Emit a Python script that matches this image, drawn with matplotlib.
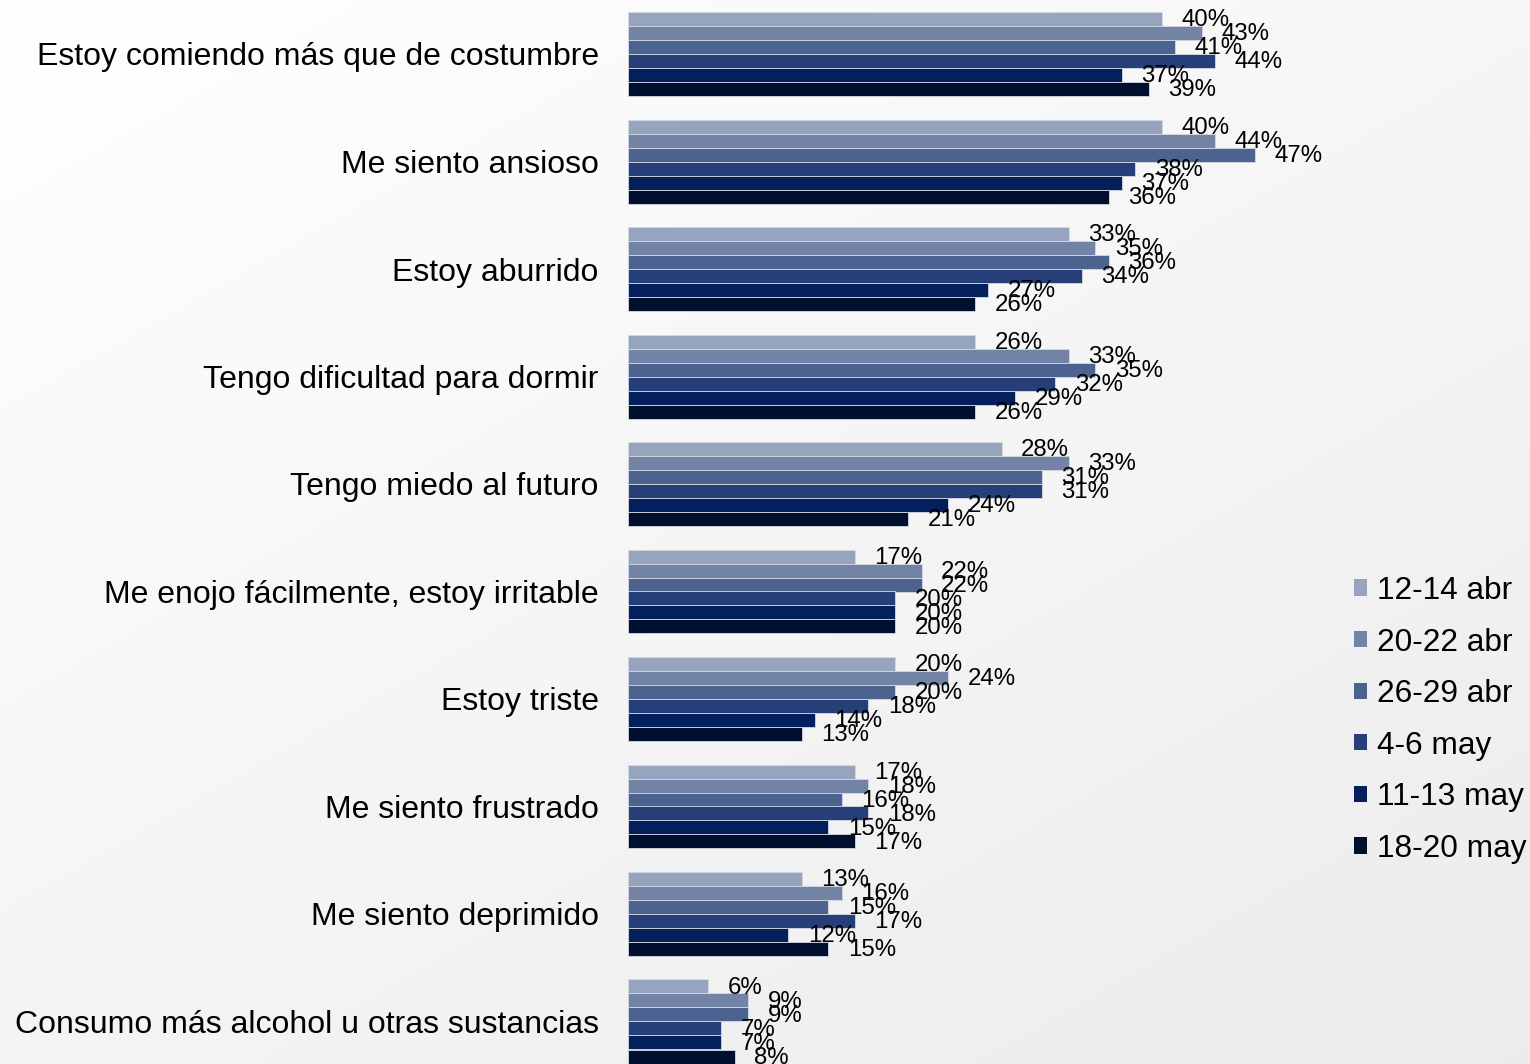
import matplotlib
matplotlib.use("Agg")
import matplotlib.pyplot as plt
import numpy as np
from matplotlib.patches import Patch

plt.rcParams["font.family"] = ["Liberation Sans", "DejaVu Sans"]

# ── Data ──────────────────────────────────────────────────────────────────────
categories = [
    "Estoy comiendo más que de costumbre",
    "Me siento ansioso",
    "Estoy aburrido",
    "Tengo dificultad para dormir",
    "Tengo miedo al futuro",
    "Me enojo fácilmente, estoy irritable",
    "Estoy triste",
    "Me siento frustrado",
    "Me siento deprimido",
    "Consumo más alcohol u otras sustancias",
]
periods = ["12-14 abr", "20-22 abr", "26-29 abr", "4-6 may", "11-13 may", "18-20 may"]

abr_12_14 = [40, 40, 33, 26, 28, 17, 20, 17, 13, 6]
abr_20_22 = [43, 44, 35, 33, 33, 22, 24, 18, 16, 9]
abr_26_29 = [41, 47, 36, 35, 31, 22, 20, 16, 15, 9]
may_4_6 = [44, 38, 34, 32, 31, 20, 18, 18, 17, 7]
may_11_13 = [37, 37, 27, 29, 24, 20, 14, 15, 12, 7]
may_18_20 = [39, 36, 26, 26, 21, 20, 13, 17, 15, 8]

series = [abr_12_14, abr_20_22, abr_26_29, may_4_6, may_11_13, may_18_20]
colors = ["#97a4be", "#7283a6", "#4c628f", "#263f78", "#031f5c", "#000f2e"]

# ── Figure ────────────────────────────────────────────────────────────────────
W, H = 1530, 1064
fig = plt.figure(figsize=(W / 100, H / 100), dpi=100)

# soft diagonal background
bg = fig.add_axes([0, 0, 1, 1], zorder=-1)
yy, xx = np.mgrid[0:1:200j, 0:1:300j]
grad = 1.0 - 0.075 * (0.45 * xx + 0.55 * yy)
bg.imshow(np.dstack([grad, grad, grad]), aspect="auto", extent=[0, 1, 0, 1],
          interpolation="bilinear")
bg.set_axis_off()

left_px = 628
px_per_pct = 13.35
group_px = 107.5
first_center_px = 54

ax = fig.add_axes([left_px / W, 0, 1 - left_px / W, 1])
ax.patch.set_alpha(0)

n = len(series)
h = 14 / group_px
y = np.arange(len(categories))

for k, (vals, col) in enumerate(zip(series, colors)):
    pos = y + (k - (n - 1) / 2) * h
    ax.barh(pos, vals, height=h, color=col, edgecolor="#d4d9e3", linewidth=0.6)
    for p, v in zip(pos, vals):
        ax.annotate(f"{v}%", (v, p), xytext=(14, -1), textcoords="offset points",
                    va="center", ha="left", fontsize=17.3, color="black")

top = -first_center_px / group_px
ax.set_ylim(top + H / group_px, top)
ax.set_xlim(0, (W - left_px) / px_per_pct)

ax.set_yticks(y)
ax.set_yticklabels(categories, fontsize=23)
ax.tick_params(axis="y", length=0, pad=21)
ax.set_xticks([])
for s in ax.spines.values():
    s.set_visible(False)

handles = [Patch(facecolor=c, edgecolor="none") for c in colors]
fig.legend(handles, periods, loc="upper left", bbox_to_anchor=(1354 / W, 1 - 576 / H),
           frameon=False, fontsize=22.8, handlelength=0.42, handleheight=0.42,
           handletextpad=0.32, labelspacing=0.68, borderaxespad=0, borderpad=0)

fig.savefig("out.png", dpi=100)
